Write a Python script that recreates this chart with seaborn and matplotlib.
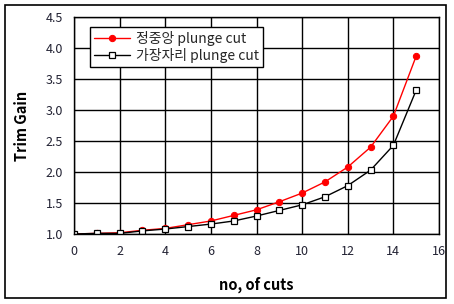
import matplotlib
matplotlib.use("Agg")
import matplotlib.pyplot as plt
import seaborn as sns
import pandas as pd
from matplotlib.patches import Rectangle

cuts = list(range(16))
center = [1.00, 1.01, 1.02, 1.06, 1.09, 1.15, 1.21, 1.30, 1.39, 1.52, 1.66, 1.84, 2.08, 2.40, 2.90, 3.87]
edge = [1.00, 1.01, 1.01, 1.05, 1.08, 1.12, 1.16, 1.21, 1.29, 1.38, 1.47, 1.60, 1.78, 2.03, 2.43, 3.32]
series_names = ["정중앙 plunge cut", "가장자리 plunge cut"]
xticks = [0, 2, 4, 6, 8, 10, 12, 14, 16]
yticks = [1.0, 1.5, 2.0, 2.5, 3.0, 3.5, 4.0, 4.5]

sns.set_theme(style="white")
plt.rcParams['font.family'] = ['Noto Sans CJK KR', 'DejaVu Sans']

df = pd.DataFrame({
    "cuts": cuts * 2,
    "gain": center + edge,
    "series": [series_names[0]] * len(cuts) + [series_names[1]] * len(cuts),
})

fig = plt.figure(figsize=(4.54, 3.04), dpi=100)
ax = fig.add_axes([74/454, 1 - 234/304, (439-74)/454, (234-17)/304])

sns.lineplot(data=df[df.series == series_names[0]], x="cuts", y="gain", ax=ax,
             color="red", lw=1, marker="o", markersize=4.5, markeredgecolor="red",
             markerfacecolor="red", label=series_names[0])
sns.lineplot(data=df[df.series == series_names[1]], x="cuts", y="gain", ax=ax,
             color="black", lw=1, marker="s", markersize=4.5, markeredgecolor="black",
             markerfacecolor="white", markeredgewidth=0.9, label=series_names[1])

ax.set_xlim(0, 16)
ax.set_ylim(1.0, 4.5)
ax.set_xticks(xticks)
ax.set_yticks(yticks)
ax.set_xticklabels([str(t) for t in xticks])
ax.set_yticklabels([f"{t:.1f}" for t in yticks])
ax.grid(True, color="black", lw=1)
ax.set_axisbelow(True)
for s in ax.spines.values():
    s.set_color("black")
    s.set_linewidth(1)
ax.tick_params(axis="both", length=0, labelsize=9, colors="#222233")
ax.tick_params(axis="x", pad=8)
ax.tick_params(axis="y", pad=8)
ax.set_xlabel("no, of cuts", fontsize=10.5, fontweight="bold", color="black", labelpad=13)
ax.set_ylabel("Trim Gain", fontsize=10.5, fontweight="bold", color="black", labelpad=11)

leg = ax.legend(loc="upper left", bbox_to_anchor=(16/365, 1 - 10/217), fontsize=10,
                frameon=True, fancybox=False, framealpha=1, edgecolor="black",
                borderaxespad=0, borderpad=0.3, handlelength=2.6, handletextpad=0.4,
                labelspacing=0.15)
leg.get_frame().set_linewidth(1)

fig.patches.append(Rectangle((5/454, 6/304), 441/454, 293/304, transform=fig.transFigure,
                             fill=False, edgecolor="black", lw=1.2))

fig.savefig("out.png", dpi=100)
